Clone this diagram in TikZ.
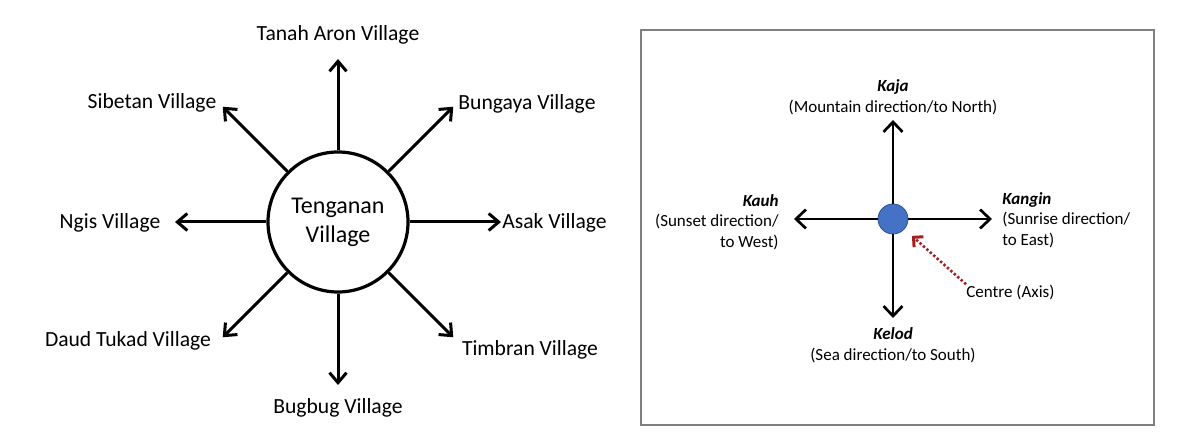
\documentclass[tikz,border=0pt]{standalone}
\usepackage{fontspec}
\setmainfont{Carlito}
\usepackage{tikz}
\usetikzlibrary{arrows.meta,calc,positioning}
\definecolor{dotblue}{HTML}{4472C4}
\definecolor{dotedge}{HTML}{2F528F}
\definecolor{axisred}{HTML}{A31F1F}
\definecolor{frame}{HTML}{7F7F7F}

\begin{document}
\begin{tikzpicture}[x=0.5pt,y=0.5pt,
  ray/.style={line width=1.5pt,-{Straight Barb[length=5pt,width=8.5pt]}},
  dray/.style={line width=1.35pt,-{Straight Barb[length=5pt,width=9.5pt]}},
  vlabel/.style={inner sep=0pt,font=\fontsize{10.8}{13}\selectfont},
  dlabel/.style={inner sep=0pt,font=\fontsize{8.5}{10.3}\selectfont}]
\useasboundingbox (0,0) rectangle (1194,444);
% Tenganan and the villages round it
\node[draw,circle,line width=1.6pt,minimum size=70pt,inner sep=0pt,align=center,
  font=\fontsize{12}{14.5}\selectfont] (tv) at (338,222) {Tenganan\\Village};
\foreach \a/\n in {90/n,45/ne,0/e,315/se,270/s,225/sw,180/w,135/nw}{
  \coordinate (tip\n) at ($(tv.center)+(\a:163)$);
  \draw[ray] (tv.\a) -- (tip\n);
}
\node[vlabel] (tanah) at (338,409) {Tanah Aron Village};
\node[vlabel] (bungaya) at (527,340) {Bungaya Village};
\node[vlabel,anchor=west] (asak) at (502,221) {Asak Village};
\node[vlabel] (timbran) at (530,94) {Timbran Village};
\node[vlabel] (bugbug) at (338,36) {Bugbug Village};
\node[vlabel] (daud) at (128,103) {Daud Tukad Village};
\node[vlabel] (ngis) at (110,221) {Ngis Village};
\node[vlabel] (sibetan) at (152,341) {Sibetan Village};

% the four directions
\draw[frame,line width=0.6pt] (641,19) rectangle (1154,414);
\node[circle,fill=dotblue,draw=dotedge,line width=0.4pt,minimum size=15pt,inner sep=0pt] (ctr) at (893,225) {};
\foreach \a/\n in {90/up,270/down,180/left,0/right}{
  \coordinate (d\n) at ($(ctr.center)+(\a:99)$);
  \draw[dray] (ctr.\a) -- (d\n);
}
\node[dlabel,align=center] (kaja) at (893,347) {\textbf{\textit{Kaja}}\\(Mountain direction/to North)};
\node[dlabel,align=center] (kelod) at (893,99) {\textbf{\textit{Kelod}}\\(Sea direction/to South)};
\node[dlabel,align=right,anchor=east] (kauh) at (779,222) {\textbf{\textit{Kauh}}\\(Sunset direction/\\to West)};
\node[dlabel,align=left,anchor=west] (kangin) at (1002,224) {\textbf{\textit{Kangin}}\\(Sunrise direction/\\to East)};
\node[dlabel,anchor=west] (axis) at (966,152) {Centre (Axis)};
\draw[axisred,line width=1.3pt,dash pattern=on 1.2pt off 1.1pt,shorten >=5pt,
  -{Straight Barb[length=3.5pt,width=7pt,line width=1.5pt]}] (axis.north west) -- (ctr);
\end{tikzpicture}
\end{document}
